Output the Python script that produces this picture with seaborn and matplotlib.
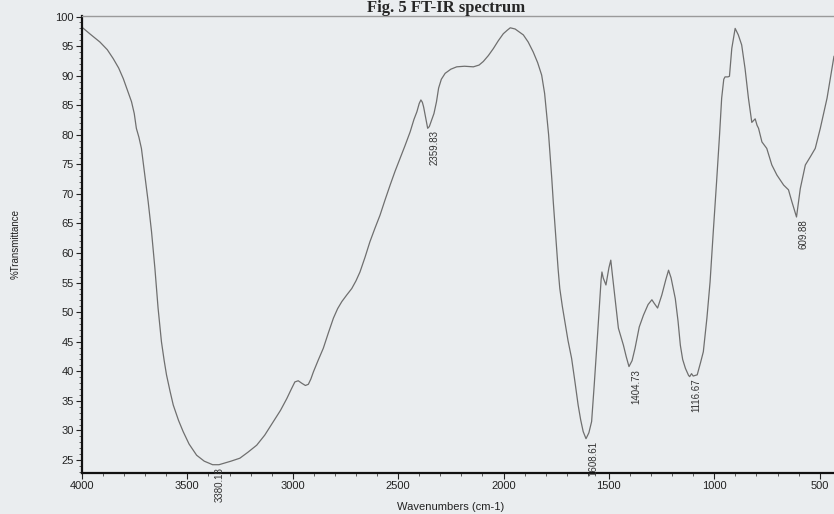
import numpy as np
import pandas as pd
import seaborn as sns
import matplotlib.pyplot as plt
from matplotlib.ticker import MultipleLocator

# FT-IR spectrum
wavenumber = [
    4000, 3960, 3915, 3880, 3852, 3826, 3804, 3785, 3765, 3752, 3742, 3730,
    3718, 3702, 3686, 3670, 3654, 3639, 3623, 3610, 3599, 3582, 3567, 3542,
    3520, 3492, 3456, 3420, 3380.18, 3350, 3330, 3293, 3251, 3213, 3171, 3133,
    3092, 3058, 3028, 3008, 2990, 2974, 2958, 2940, 2926, 2914, 2902, 2879,
    2855, 2831, 2807, 2787, 2767, 2744, 2720, 2700, 2681, 2657, 2634, 2610,
    2586, 2562, 2538, 2515, 2491, 2467, 2443, 2425, 2411, 2400, 2392, 2385,
    2379, 2370, 2359.83, 2352, 2344, 2330, 2318, 2308, 2295, 2277, 2250, 2222,
    2185, 2143, 2116, 2096, 2072, 2048, 2025, 2001, 1982, 1968, 1945, 1906,
    1883, 1859, 1838, 1819, 1805, 1795, 1786, 1779, 1771, 1764, 1756, 1748,
    1741, 1733, 1721, 1709, 1694, 1677, 1661, 1646, 1634, 1622, 1608.61, 1595,
    1582, 1570, 1558, 1546, 1537, 1533, 1527, 1514, 1500, 1491, 1484, 1471,
    1455, 1431, 1418, 1404.73, 1390, 1376, 1356, 1336, 1314, 1296, 1285, 1269,
    1249, 1230, 1217, 1205, 1185, 1172, 1161, 1150, 1137, 1122, 1116.67, 1108,
    1100, 1081, 1065, 1052, 1035, 1020, 1005, 989, 975, 965, 955, 949,
    935, 928, 917, 901, 886, 870, 854, 838, 822, 806, 797, 790,
    774, 751, 727, 703, 671, 648, 632, 609.88, 592, 568, 544, 521,
    497, 465, 432,
]
transmittance = [
    98.2, 97.0, 95.7, 94.4, 92.9, 91.3, 89.5, 87.6, 85.6, 83.6, 81.1, 79.6,
    77.7, 73.2, 68.7, 63.6, 57.4, 50.7, 45.0, 41.8, 39.4, 36.6, 34.3, 31.7,
    29.8, 27.7, 25.8, 24.8, 24.2, 24.2, 24.4, 24.8, 25.3, 26.3, 27.5, 29.2,
    31.5, 33.4, 35.4, 36.9, 38.2, 38.4, 38.0, 37.6, 37.8, 38.7, 39.9, 41.9,
    43.9, 46.5, 49.0, 50.6, 51.8, 52.9, 54.0, 55.3, 56.8, 59.3, 61.9, 64.2,
    66.4, 69.0, 71.5, 73.8, 76.0, 78.2, 80.5, 82.6, 83.9, 85.3, 85.9, 85.5,
    84.7, 83.0, 81.1, 81.4, 82.2, 83.6, 85.6, 87.9, 89.4, 90.4, 91.1, 91.5,
    91.6, 91.5, 91.8, 92.4, 93.4, 94.6, 95.9, 97.1, 97.7, 98.1, 97.9, 96.9,
    95.7, 94.0, 92.2, 90.1, 87.0, 83.3, 80.0, 76.6, 72.6, 68.7, 64.7, 60.8,
    57.3, 54.0, 51.0, 48.4, 45.2, 42.2, 38.2, 34.3, 31.8, 29.8, 28.6, 29.6,
    31.5, 37.5, 43.9, 50.5, 55.5, 56.8, 55.8, 54.6, 57.5, 58.8, 56.5, 52.3,
    47.3, 44.4, 42.5, 40.8, 41.8, 43.9, 47.5, 49.5, 51.3, 52.1, 51.5, 50.7,
    52.9, 55.5, 57.1, 55.8, 52.3, 48.5, 44.4, 42.0, 40.5, 39.3, 39.1, 39.6,
    39.2, 39.4, 41.5, 43.3, 49.0, 55.1, 63.5, 72.1, 80.0, 86.2, 89.4, 89.8,
    89.8, 89.9, 94.6, 98.0, 96.9, 95.2, 91.2, 86.2, 82.1, 82.7, 81.6, 81.1,
    78.8, 77.7, 74.9, 73.2, 71.5, 70.7, 68.7, 66.1, 70.9, 74.9, 76.3, 77.7,
    81.1, 86.2, 93.3,
]

peak_labels = ["3380.18", "2359.83", "1608.61", "1404.73", "1116.67", "609.88"]

df = pd.DataFrame({"wn": wavenumber, "T": transmittance})

sns.set_theme(style="ticks")
plt.rcParams["font.family"] = ["Liberation Sans", "DejaVu Sans"]

bg = "#eaedef"
fig = plt.figure(figsize=(8.34, 5.14), dpi=100, facecolor=bg)
ax = fig.add_axes([0.0983, 0.0798, 0.9017, 0.8891], facecolor=bg)

sns.lineplot(data=df, x="wn", y="T", ax=ax, estimator=None,
             color="#6f6f6f", linewidth=0.9)

ax.set_xlim(4000, 432)
ax.set_ylim(22.8, 100.1)
ax.xaxis.set_major_locator(MultipleLocator(500))
ax.xaxis.set_minor_locator(MultipleLocator(100))
ax.yaxis.set_major_locator(MultipleLocator(5))
ax.yaxis.set_minor_locator(MultipleLocator(1))
ax.tick_params(which="major", length=4, width=0.8, labelsize=8, pad=2,
               colors="#222222")
ax.tick_params(which="minor", length=2.5, width=0.6, colors="#444444")

for side in ["left", "bottom"]:
    ax.spines[side].set_linewidth(1.6)
    ax.spines[side].set_color("#111111")
ax.spines["top"].set_color("#9a9a9a")
ax.spines["top"].set_linewidth(1.0)
ax.spines["right"].set_visible(False)

ax.set_xlabel("Wavenumbers (cm-1)", fontsize=8, color="#222222")
ax.set_ylabel("%Transmittance", fontsize=7, color="#222222")
ax.xaxis.set_label_coords(0.49, -0.064)
ax.yaxis.set_label_coords(-0.082, 0.5)

# peak annotations, placed just below each minimum
for lab in peak_labels:
    w = float(lab)
    t = df.loc[(df["wn"] - w).abs().idxmin(), "T"]
    ax.annotate(lab, xy=(w, t), xytext=(5, -1.5), textcoords="offset points",
                rotation=90, ha="center", va="top", fontsize=7,
                color="#333333")

fig.text(0.535, 0.977, "Fig. 5 FT-IR spectrum", ha="center", va="baseline",
         fontsize=12, fontweight="bold", family="Liberation Serif")

fig.savefig("out.png", dpi=100, facecolor=bg)
